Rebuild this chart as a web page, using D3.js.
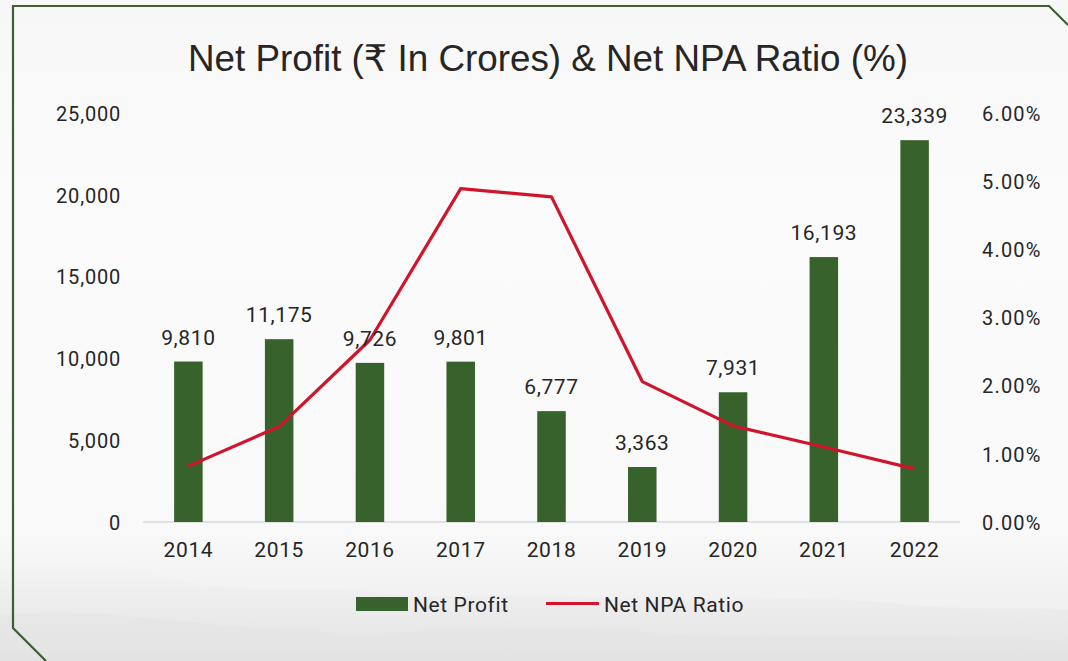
<!DOCTYPE html>
<html>
<head>
<meta charset="utf-8">
<script src="https://cdn.jsdelivr.net/npm/d3@7"></script>
<style>
  html, body { margin: 0; padding: 0; background: #f6f6f6; }
  svg { display: block; }
</style>
</head>
<body>
<svg id="chart" width="1068" height="661"></svg>
<script>
const years = ["2014", "2015", "2016", "2017", "2018", "2019", "2020", "2021", "2022"];
const netProfit = [9810, 11175, 9726, 9801, 6777, 3363, 7931, 16193, 23339];
const netNpaRatio = [0.82, 1.40, 2.67, 4.89, 4.77, 2.06, 1.41, 1.10, 0.78];
const leftTicks = [0, 5000, 10000, 15000, 20000, 25000];
const rightTicks = [0, 1, 2, 3, 4, 5, 6];
const titleText = "Net Profit (₹ In Crores) & Net NPA Ratio (%)";
const legendLabels = ["Net Profit", "Net NPA Ratio"];

const W = 1068, H = 661;
const svg = d3.select("#chart");
const defs = svg.append("defs");

const bg = defs.append("linearGradient").attr("id", "bg").attr("x1", 0).attr("y1", 0).attr("x2", 0).attr("y2", 1);
bg.append("stop").attr("offset", "0%").attr("stop-color", "#f7f7f7");
bg.append("stop").attr("offset", "30%").attr("stop-color", "#fbfbfb");
bg.append("stop").attr("offset", "80%").attr("stop-color", "#f9f9f9");
bg.append("stop").attr("offset", "92%").attr("stop-color", "#f0f0f0");
bg.append("stop").attr("offset", "100%").attr("stop-color", "#e9e9e9");
svg.append("rect").attr("width", W).attr("height", H).attr("fill", "url(#bg)");

// soft hill texture at bottom
const hill = defs.append("linearGradient").attr("id", "hill").attr("x1", 0).attr("y1", 0).attr("x2", 0).attr("y2", 1);
hill.append("stop").attr("offset", "0%").attr("stop-color", "#e8e8e8").attr("stop-opacity", 0.0);
hill.append("stop").attr("offset", "50%").attr("stop-color", "#e6e6e6").attr("stop-opacity", 0.45);
hill.append("stop").attr("offset", "100%").attr("stop-color", "#e0e0e0").attr("stop-opacity", 0.6);
svg.append("path")
  .attr("d", "M0,570 C60,555 110,560 160,575 C240,598 300,585 370,592 C450,602 520,590 600,598 C700,606 800,592 900,604 C980,612 1030,606 1068,610 L1068,661 L0,661 Z")
  .attr("fill", "url(#hill)");
svg.append("path")
  .attr("d", "M0,615 C100,605 200,628 320,632 C420,636 520,624 640,632 C760,640 880,630 1068,642 L1068,661 L0,661 Z")
  .attr("fill", "#e2e2e2").attr("opacity", 0.35);

// border
svg.append("path")
  .attr("d", "M1068,25 L1049,6 L13,6 L13,628 L46,661")
  .attr("fill", "none").attr("stroke", "#3d5f33").attr("stroke-width", 2.2);

const x = d3.scaleBand().domain(years).range([143, 960]).paddingInner(0.686).paddingOuter(0.343);
const yL = d3.scaleLinear().domain([0, 25000]).range([522, 113]);
const yR = d3.scaleLinear().domain([0, 6]).range([522, 113]);

const numFont = "Roboto, 'DejaVu Sans', sans-serif";
const textColor = "#262626";

// title
svg.append("text")
  .attr("x", 548).attr("y", 71)
  .attr("text-anchor", "middle")
  .attr("font-family", "'Liberation Sans', Arial, 'DejaVu Sans', sans-serif")
  .attr("font-size", 36.8)
  .attr("fill", "#262626")
  .text(titleText);

// baseline axis
svg.append("line")
  .attr("x1", 143).attr("x2", 960).attr("y1", yL(0)).attr("y2", yL(0))
  .attr("stroke", "#d9d9d9").attr("stroke-width", 1.5);

// left axis
const leftAxis = d3.axisLeft(yL).tickValues(leftTicks).tickFormat(d3.format(",")).tickSize(0).tickPadding(0);
const gL = svg.append("g").attr("transform", "translate(121,0)").call(leftAxis);
gL.select(".domain").remove();
gL.selectAll("text").attr("font-family", numFont).attr("font-size", 20).attr("letter-spacing", 0.8)
  .attr("fill", textColor).attr("dy", "0.36em");

// right axis
const rightAxis = d3.axisRight(yR).tickValues(rightTicks).tickFormat(d => d3.format(".2f")(d) + "%").tickSize(0).tickPadding(0);
const gR = svg.append("g").attr("transform", "translate(982,0)").call(rightAxis);
gR.select(".domain").remove();
gR.selectAll("text").attr("font-family", numFont).attr("font-size", 20).attr("letter-spacing", 1.2)
  .attr("fill", textColor).attr("dy", "0.36em");

// bottom axis
const bottomAxis = d3.axisBottom(x).tickSize(0).tickPadding(0);
const gB = svg.append("g").attr("transform", "translate(0,522)").call(bottomAxis);
gB.select(".domain").remove();
gB.selectAll("text").attr("font-family", numFont).attr("font-size", 21).attr("letter-spacing", 0.6)
  .attr("fill", textColor).attr("dy", null).attr("y", 35);

// bars
const barColor = "#37622c";
svg.append("g").selectAll("rect").data(years).join("rect")
  .attr("x", d => x(d))
  .attr("width", x.bandwidth())
  .attr("y", (d, i) => yL(netProfit[i]))
  .attr("height", (d, i) => yL(0) - yL(netProfit[i]))
  .attr("fill", barColor);

// line
const lineColor = "#d0142c";
const line = d3.line()
  .x((d, i) => x(years[i]) + x.bandwidth() / 2)
  .y(d => yR(d));
svg.append("path").datum(netNpaRatio)
  .attr("d", line)
  .attr("fill", "none").attr("stroke", lineColor).attr("stroke-width", 3.2)
  .attr("stroke-linejoin", "round");

// data labels
svg.append("g").selectAll("text").data(years).join("text")
  .attr("x", d => x(d) + x.bandwidth() / 2)
  .attr("y", (d, i) => yL(netProfit[i]) - 17)
  .attr("text-anchor", "middle")
  .attr("font-family", numFont).attr("font-size", 21).attr("letter-spacing", 0.6)
  .attr("fill", textColor)
  .text((d, i) => d3.format(",")(netProfit[i]));

// legend
const lg = svg.append("g");
lg.append("rect").attr("x", 356).attr("y", 597).attr("width", 52).attr("height", 14).attr("fill", barColor);
lg.append("text").attr("x", 413).attr("y", 612)
  .attr("font-family", numFont).attr("font-size", 21).attr("letter-spacing", 0.6).attr("fill", textColor)
  .text(legendLabels[0]);
lg.append("line").attr("x1", 546).attr("x2", 599).attr("y1", 603.5).attr("y2", 603.5)
  .attr("stroke", lineColor).attr("stroke-width", 3.2);
lg.append("text").attr("x", 604).attr("y", 612)
  .attr("font-family", numFont).attr("font-size", 21).attr("letter-spacing", 0.6).attr("fill", textColor)
  .text(legendLabels[1]);
</script>
</body>
</html>
